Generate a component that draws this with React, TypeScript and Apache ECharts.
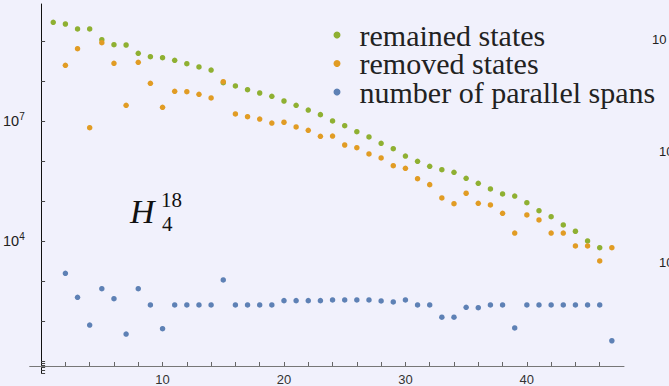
import React, { useEffect, useRef } from "react";
import * as echarts from "echarts";

// x = step index 1..47
const steps = Array.from({ length: 47 }, (_, i) => i + 1);

const remainedStates = [
  2.93e9, 2.66e9, 2.0e9, 2.0e9, 1.08e9, 8.08e8, 7.94e8, 4.93e8, 4.05e8, 3.82e8,
  3.29e8, 2.71e8, 2.24e8, 1.88e8, 9.07e7, 7.5e7, 6.06e7, 5.01e7, 4.15e7, 3.16e7,
  2.47e7, 1.88e7, 1.44e7, 1.0e7, 7.63e6, 5.4e6, 3.98e6, 2.77e6, 2.03e6, 1.33e6,
  9.83e5, 7.37e5, 6.06e5, 5.22e5, 3.69e5, 2.77e5, 2.0e5, 1.5e5, 1.33e5, 9.07e4,
  5.72e4, 4.05e4, 2.51e4, 1.75e4, 1.0e4, 6.8e3, null,
];

const removedStates = [
  null, 2.47e8, 6.42e8, 6.8e6, 9.07e8, 2.77e8, 2.47e7, 2.93e8, 8.76e7, 2.2e7,
  5.53e7, 5.4e7, 4.65e7, 3.76e7, 9.6e7, 1.5e7, 1.28e7, 1.12e7, 8.9e6, 9.3e6,
  7.08e6, 5.85e6, 4.15e6, 4.2e6, 2.51e6, 2.15e6, 1.5e6, 1.19e6, 7.63e5, 6.57e5,
  3.61e5, 2.56e5, 1.19e5, 8.56e4, 1.56e5, 8.76e4, 7.94e4, 4.93e4, 1.58e4, 4.47e4,
  3.35e4, 1.58e4, 1.58e4, 7.5e3, 7.5e3, 3.16e3, 6.8e3,
];

const parallelSpans = [
  null, 1558, 391, 79, 642, 361, 47, 642, 251, 64,
  251, 251, 251, 251, 1059, 251, 251, 251, 251, 322,
  322, 322, 322, 335, 335, 335, 335, 316, 299, 335,
  251, 251, 124, 124, 220, 215, 251, 251, 67, 251,
  251, 251, 251, 251, 251, 251, 32,
];

const seriesNames = ["remained states", "removed states", "number of parallel spans"];
const seriesColors = ["#8FB032", "#E19C24", "#5E81B5"];

const xTickValues = [2, 4, 6, 8, 10, 12, 14, 16, 18, 20, 22, 24, 26, 28, 30, 32, 34, 36, 38, 40, 42, 44, 46];
const xLabelValues = [10, 20, 30, 40];
// y axis in log10 units
const yMinorTickValues = [5, 6, 7, 8, 9];
const yDecadeTicks = [1, 2, 3, 4, 5, 6, 7, 8, 9];
const yLabelExponents = [4, 7];

const toPoints = (vals: (number | null)[]) =>
  vals
    .map((v, i) => (v == null ? null : [steps[i], Math.log10(v)]))
    .filter((p) => p !== null);

export default function App() {
  const ref = useRef<HTMLDivElement>(null);

  useEffect(() => {
    if (!ref.current) return;
    const chart = echarts.init(ref.current, undefined, { renderer: "svg" });
    const sans = "Liberation Sans";
    const serif = "Liberation Serif";
    chart.setOption({
      animation: false,
      backgroundColor: "#F1F1FC",
      grid: { left: 27, top: 4, width: 597, height: 369, containLabel: false },
      xAxis: {
        type: "value",
        min: -0.94,
        max: 48,
        offset: -7,
        axisLine: { show: true, lineStyle: { color: "#777", width: 1 } },
        axisTick: {
          show: true,
          inside: true,
          length: 4,
          customValues: xTickValues,
          lineStyle: { color: "#666" },
        },
        axisLabel: {
          customValues: xLabelValues,
          color: "#333",
          fontSize: 13,
          fontFamily: sans,
          margin: 7,
        },
        splitLine: { show: false },
      },
      yAxis: {
        type: "value",
        min: Math.log10(5),
        max: 9.925,
        axisLine: { show: true, onZero: true, lineStyle: { color: "#111", width: 1 } },
        axisTick: {
          show: true,
          inside: true,
          length: 4,
          customValues: [...yMinorTickValues.map((v) => Math.log10(v)), ...yDecadeTicks],
          lineStyle: { color: "#444" },
        },
        axisLabel: {
          customValues: yLabelExponents,
          margin: 5,
          formatter: (v: number) => `{b|10}{s|${Math.round(v)}}`,
          rich: {
            b: { fontSize: 14.5, fontFamily: sans, color: "#222" },
            s: { fontSize: 10, fontFamily: sans, color: "#222", padding: [0, 0, 9, 0] },
          },
        },
        splitLine: { show: false },
      },
      legend: {
        show: true,
        orient: "vertical",
        left: 333.5,
        top: 20,
        padding: 0,
        itemWidth: 7,
        itemHeight: 7,
        itemGap: -1.5,
        icon: "circle",
        data: seriesNames,
        textStyle: {
          fontFamily: serif,
          fontSize: 30,
          lineHeight: 26,
          color: "#222",
          padding: [0, 0, 0, 14],
        },
      },
      series: [remainedStates, removedStates, parallelSpans].map((vals, i) => ({
        type: "scatter",
        name: seriesNames[i],
        data: toPoints(vals),
        symbol: "circle",
        symbolSize: 5.5,
        itemStyle: { color: seriesColors[i], opacity: 1 },
        z: 2 + i,
      })),
      graphic: [
        {
          type: "text",
          left: 130,
          top: 194,
          style: { text: "H", fontFamily: serif, fontStyle: "italic", fontSize: 34, fill: "#111" },
        },
        {
          type: "text",
          left: 161,
          top: 189,
          style: { text: "18", fontFamily: serif, fontSize: 21, fill: "#111" },
        },
        {
          type: "text",
          left: 162,
          top: 213,
          style: { text: "4", fontFamily: serif, fontSize: 21, fill: "#111" },
        },
        {
          type: "text",
          x: 652,
          y: 33,
          style: { text: "10", fontFamily: sans, fontSize: 13, fill: "#222" },
        },
        {
          type: "text",
          x: 659,
          y: 145,
          style: { text: "10", fontFamily: sans, fontSize: 13, fill: "#222" },
        },
        {
          type: "text",
          x: 659,
          y: 256,
          style: { text: "10", fontFamily: sans, fontSize: 13, fill: "#222" },
        },
      ],
    });
    return () => chart.dispose();
  }, []);

  return (
    <div
      ref={ref}
      style={{ position: "fixed", left: 0, top: 0, width: 669, height: 386, background: "#F1F1FC" }}
    />
  );
}
